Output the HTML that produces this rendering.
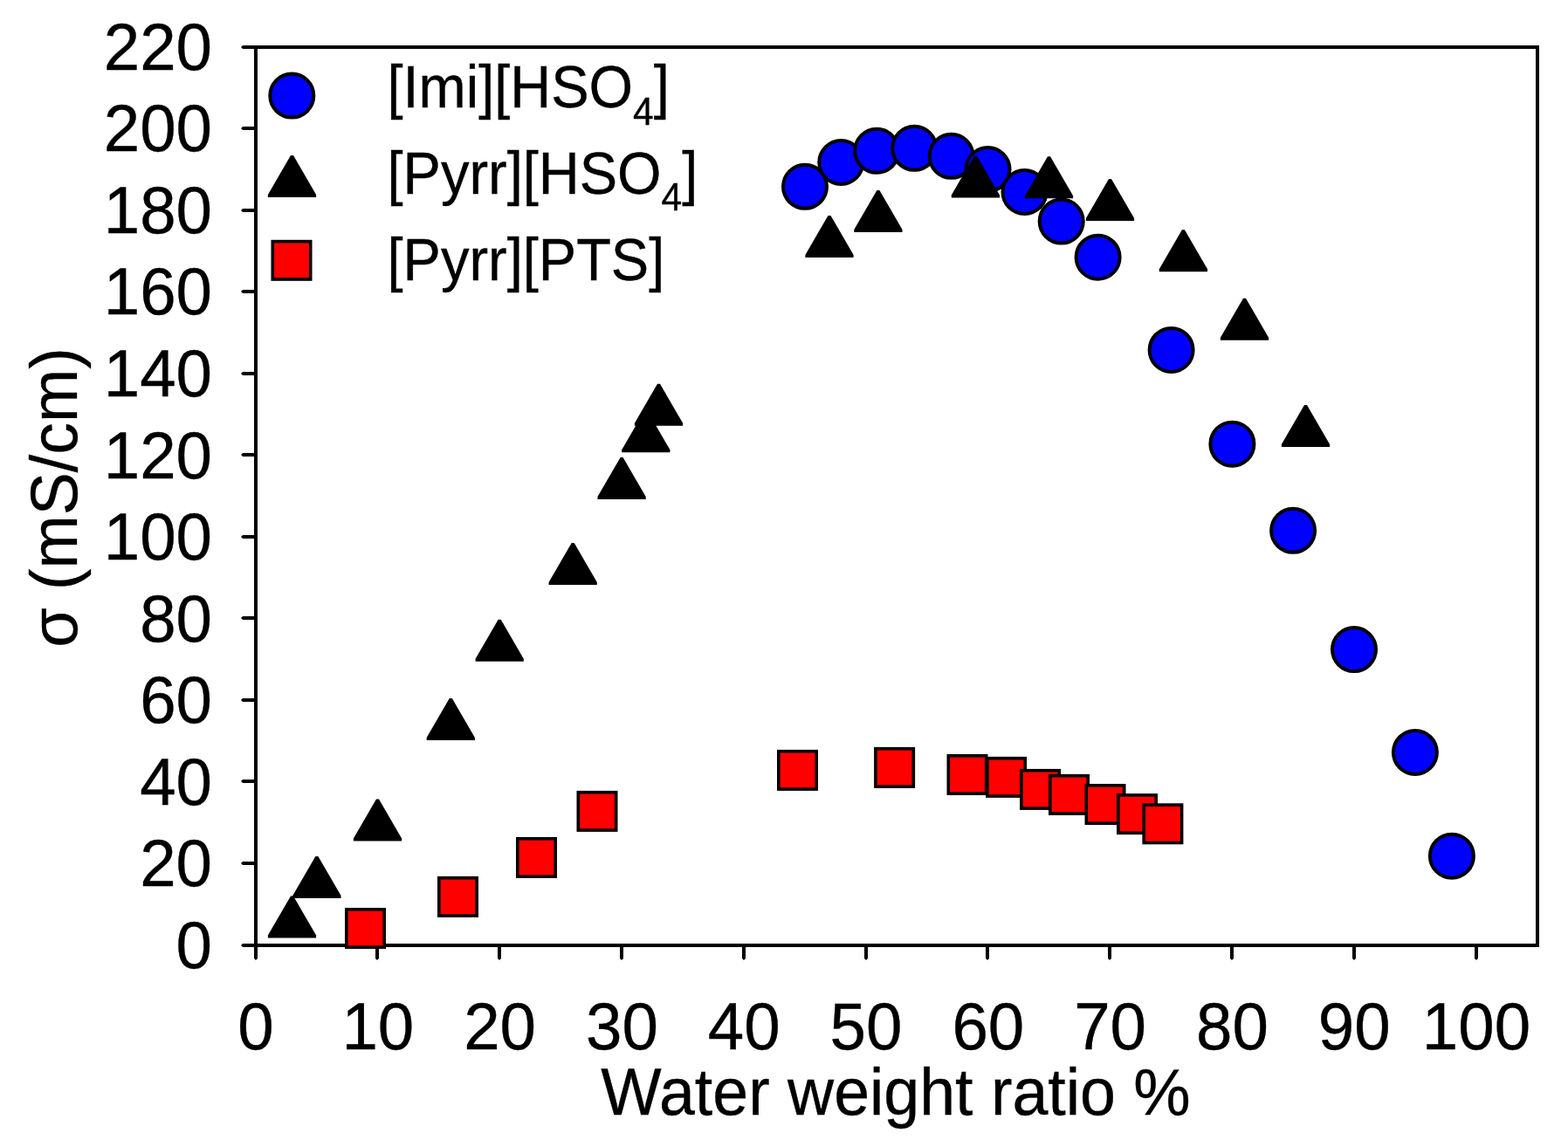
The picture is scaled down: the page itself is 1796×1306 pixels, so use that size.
<!DOCTYPE html>
<html><head><meta charset="utf-8"><title>Conductivity vs water weight ratio</title>
<style>
html,body{margin:0;padding:0;background:#fff;}
svg{display:block;}
text{font-family:'Liberation Sans', Arial, sans-serif;fill:#000;stroke:#000;stroke-width:0.35px;}
</style></head>
<body>
<svg width="1796" height="1306" viewBox="0 0 1796 1306">
<rect width="1796" height="1306" fill="#fff"/>
<rect x="293" y="54" width="1468" height="1029" fill="none" stroke="#000" stroke-width="4"/>
<polygon points="293,1081 278,1081 276,1083 278,1085 293,1085" fill="#000"/>
<text transform="translate(243.0,1108.8) scale(1,1.03)" font-size="74.5" text-anchor="end">0</text>
<polygon points="293,987 278,987 276,989 278,991 293,991" fill="#000"/>
<text transform="translate(243.0,1015.3) scale(1,1.03)" font-size="74.5" text-anchor="end">20</text>
<polygon points="293,893 278,893 276,895 278,897 293,897" fill="#000"/>
<text transform="translate(243.0,921.7) scale(1,1.03)" font-size="74.5" text-anchor="end">40</text>
<polygon points="293,800 278,800 276,802 278,804 293,804" fill="#000"/>
<text transform="translate(243.0,828.2) scale(1,1.03)" font-size="74.5" text-anchor="end">60</text>
<polygon points="293,706 278,706 276,708 278,710 293,710" fill="#000"/>
<text transform="translate(243.0,734.6) scale(1,1.03)" font-size="74.5" text-anchor="end">80</text>
<polygon points="293,613 278,613 276,615 278,617 293,617" fill="#000"/>
<text transform="translate(243.0,641.1) scale(1,1.03)" font-size="74.5" text-anchor="end">100</text>
<polygon points="293,519 278,519 276,521 278,523 293,523" fill="#000"/>
<text transform="translate(243.0,547.5) scale(1,1.03)" font-size="74.5" text-anchor="end">120</text>
<polygon points="293,426 278,426 276,428 278,430 293,430" fill="#000"/>
<text transform="translate(243.0,454.0) scale(1,1.03)" font-size="74.5" text-anchor="end">140</text>
<polygon points="293,332 278,332 276,334 278,336 293,336" fill="#000"/>
<text transform="translate(243.0,360.4) scale(1,1.03)" font-size="74.5" text-anchor="end">160</text>
<polygon points="293,239 278,239 276,241 278,243 293,243" fill="#000"/>
<text transform="translate(243.0,266.9) scale(1,1.03)" font-size="74.5" text-anchor="end">180</text>
<polygon points="293,145 278,145 276,147 278,149 293,149" fill="#000"/>
<text transform="translate(243.0,173.3) scale(1,1.03)" font-size="74.5" text-anchor="end">200</text>
<polygon points="293,52 278,52 276,54 278,56 293,56" fill="#000"/>
<text transform="translate(243.0,79.8) scale(1,1.03)" font-size="74.5" text-anchor="end">220</text>
<polygon points="291,1083 291,1098 293,1100 295,1098 295,1083" fill="#000"/>
<text transform="translate(293.0,1201.5) scale(1,1.03)" font-size="74.5" text-anchor="middle">0</text>
<polygon points="430,1083 430,1098 432,1100 434,1098 434,1083" fill="#000"/>
<text transform="translate(432.8,1201.5) scale(1,1.03)" font-size="74.5" text-anchor="middle">10</text>
<polygon points="570,1083 570,1098 572,1100 574,1098 574,1083" fill="#000"/>
<text transform="translate(572.6,1201.5) scale(1,1.03)" font-size="74.5" text-anchor="middle">20</text>
<polygon points="710,1083 710,1098 712,1100 714,1098 714,1083" fill="#000"/>
<text transform="translate(712.4,1201.5) scale(1,1.03)" font-size="74.5" text-anchor="middle">30</text>
<polygon points="850,1083 850,1098 852,1100 854,1098 854,1083" fill="#000"/>
<text transform="translate(852.2,1201.5) scale(1,1.03)" font-size="74.5" text-anchor="middle">40</text>
<polygon points="990,1083 990,1098 992,1100 994,1098 994,1083" fill="#000"/>
<text transform="translate(992.0,1201.5) scale(1,1.03)" font-size="74.5" text-anchor="middle">50</text>
<polygon points="1129,1083 1129,1098 1131,1100 1133,1098 1133,1083" fill="#000"/>
<text transform="translate(1131.8,1201.5) scale(1,1.03)" font-size="74.5" text-anchor="middle">60</text>
<polygon points="1269,1083 1269,1098 1271,1100 1273,1098 1273,1083" fill="#000"/>
<text transform="translate(1271.6,1201.5) scale(1,1.03)" font-size="74.5" text-anchor="middle">70</text>
<polygon points="1409,1083 1409,1098 1411,1100 1413,1098 1413,1083" fill="#000"/>
<text transform="translate(1411.4,1201.5) scale(1,1.03)" font-size="74.5" text-anchor="middle">80</text>
<polygon points="1549,1083 1549,1098 1551,1100 1553,1098 1553,1083" fill="#000"/>
<text transform="translate(1551.2,1201.5) scale(1,1.03)" font-size="74.5" text-anchor="middle">90</text>
<polygon points="1689,1083 1689,1098 1691,1100 1693,1098 1693,1083" fill="#000"/>
<text transform="translate(1691.0,1201.5) scale(1,1.03)" font-size="74.5" text-anchor="middle">100</text>
<text transform="translate(1026.0,1277.0) scale(1,1.03)" font-size="73.5" text-anchor="middle">Water weight ratio %</text>
<text transform="translate(87.5,570) rotate(-90) scale(1,1.03)" font-size="73.5" text-anchor="middle">σ (mS/cm)</text>
<circle cx="922.0" cy="213.8" r="25" fill="#0000ff" stroke="#000" stroke-width="4"/>
<circle cx="963.3" cy="186.0" r="25" fill="#0000ff" stroke="#000" stroke-width="4"/>
<circle cx="1004.2" cy="172.8" r="25" fill="#0000ff" stroke="#000" stroke-width="4"/>
<circle cx="1047.3" cy="169.8" r="25" fill="#0000ff" stroke="#000" stroke-width="4"/>
<circle cx="1089.6" cy="178.8" r="25" fill="#0000ff" stroke="#000" stroke-width="4"/>
<circle cx="1131.5" cy="194.1" r="25" fill="#0000ff" stroke="#000" stroke-width="4"/>
<circle cx="1173.5" cy="220.0" r="25" fill="#0000ff" stroke="#000" stroke-width="4"/>
<circle cx="1215.7" cy="253.6" r="25" fill="#0000ff" stroke="#000" stroke-width="4"/>
<circle cx="1257.6" cy="294.7" r="25" fill="#0000ff" stroke="#000" stroke-width="4"/>
<circle cx="1341.6" cy="400.9" r="25" fill="#0000ff" stroke="#000" stroke-width="4"/>
<circle cx="1411.4" cy="508.7" r="25" fill="#0000ff" stroke="#000" stroke-width="4"/>
<circle cx="1481.1" cy="607.8" r="25" fill="#0000ff" stroke="#000" stroke-width="4"/>
<circle cx="1551.0" cy="744.1" r="25" fill="#0000ff" stroke="#000" stroke-width="4"/>
<circle cx="1620.9" cy="861.9" r="25" fill="#0000ff" stroke="#000" stroke-width="4"/>
<circle cx="1662.9" cy="980.7" r="25" fill="#0000ff" stroke="#000" stroke-width="4"/>
<polygon points="333.0,1026.4 336.0,1026.4 362.1,1071.4 362.1,1074.4 306.9,1074.4 306.9,1071.4" fill="#000"/>
<polygon points="361.4,981.0 364.4,981.0 390.5,1026.0 390.5,1029.0 335.3,1029.0 335.3,1026.0" fill="#000"/>
<polygon points="431.0,915.6 434.0,915.6 460.1,960.6 460.1,963.6 404.9,963.6 404.9,960.6" fill="#000"/>
<polygon points="514.8,800.0 517.8,800.0 543.9,845.0 543.9,848.0 488.7,848.0 488.7,845.0" fill="#000"/>
<polygon points="570.7,709.8 573.7,709.8 599.8,754.8 599.8,757.8 544.6,757.8 544.6,754.8" fill="#000"/>
<polygon points="654.7,621.9 657.7,621.9 683.8,666.9 683.8,669.9 628.6,669.9 628.6,666.9" fill="#000"/>
<polygon points="710.6,524.1 713.6,524.1 739.7,569.1 739.7,572.1 684.5,572.1 684.5,569.1" fill="#000"/>
<polygon points="738.3,470.3 741.3,470.3 767.4,515.3 767.4,518.3 712.2,518.3 712.2,515.3" fill="#000"/>
<polygon points="753.0,439.8 756.0,439.8 782.1,484.8 782.1,487.8 726.9,487.8 726.9,484.8" fill="#000"/>
<polygon points="948.5,246.9 951.5,246.9 977.6,291.9 977.6,294.9 922.4,294.9 922.4,291.9" fill="#000"/>
<polygon points="1004.4,218.0 1007.4,218.0 1033.5,263.0 1033.5,266.0 978.3,266.0 978.3,263.0" fill="#000"/>
<polygon points="1115.9,178.4 1118.9,178.4 1145.0,223.4 1145.0,226.4 1089.8,226.4 1089.8,223.4" fill="#000"/>
<polygon points="1200.0,179.2 1203.0,179.2 1229.1,224.2 1229.1,227.2 1173.9,227.2 1173.9,224.2" fill="#000"/>
<polygon points="1270.0,205.1 1273.0,205.1 1299.1,250.1 1299.1,253.1 1243.9,253.1 1243.9,250.1" fill="#000"/>
<polygon points="1353.9,263.2 1356.9,263.2 1383.0,308.2 1383.0,311.2 1327.8,311.2 1327.8,308.2" fill="#000"/>
<polygon points="1424.0,341.8 1427.0,341.8 1453.1,386.8 1453.1,389.8 1397.9,389.8 1397.9,386.8" fill="#000"/>
<polygon points="1494.0,464.0 1497.0,464.0 1523.1,509.0 1523.1,512.0 1467.9,512.0 1467.9,509.0" fill="#000"/>
<rect x="396.8" y="1041.8" width="43.4" height="43.4" fill="#ff0000" stroke="#000" stroke-width="3.6"/>
<rect x="502.8" y="1005.7" width="43.4" height="43.4" fill="#ff0000" stroke="#000" stroke-width="3.6"/>
<rect x="592.8" y="960.8" width="43.4" height="43.4" fill="#ff0000" stroke="#000" stroke-width="3.6"/>
<rect x="662.3" y="907.7" width="43.4" height="43.4" fill="#ff0000" stroke="#000" stroke-width="3.6"/>
<rect x="891.8" y="860.7" width="43.4" height="43.4" fill="#ff0000" stroke="#000" stroke-width="3.6"/>
<rect x="1002.9" y="857.7" width="43.4" height="43.4" fill="#ff0000" stroke="#000" stroke-width="3.6"/>
<rect x="1086.3" y="865.8" width="43.4" height="43.4" fill="#ff0000" stroke="#000" stroke-width="3.6"/>
<rect x="1130.9" y="868.7" width="43.4" height="43.4" fill="#ff0000" stroke="#000" stroke-width="3.6"/>
<rect x="1169.9" y="882.7" width="43.4" height="43.4" fill="#ff0000" stroke="#000" stroke-width="3.6"/>
<rect x="1202.8" y="888.7" width="43.4" height="43.4" fill="#ff0000" stroke="#000" stroke-width="3.6"/>
<rect x="1244.3" y="899.8" width="43.4" height="43.4" fill="#ff0000" stroke="#000" stroke-width="3.6"/>
<rect x="1280.8" y="910.9" width="43.4" height="43.4" fill="#ff0000" stroke="#000" stroke-width="3.6"/>
<rect x="1310.2" y="922.1" width="43.4" height="43.4" fill="#ff0000" stroke="#000" stroke-width="3.6"/>
<circle cx="334.3" cy="109.6" r="25" fill="#0000ff" stroke="#000" stroke-width="4"/>
<polygon points="333.0,177.9 336.0,177.9 362.1,222.9 362.1,225.9 306.9,225.9 306.9,222.9" fill="#000"/>
<rect x="312.3" y="276.6" width="43.4" height="43.4" fill="#ff0000" stroke="#000" stroke-width="3.6"/>
<text transform="translate(443.5,123.0) scale(1,1.04)" font-size="65" text-anchor="start">[Imi][HSO<tspan font-size="42.5" dy="19">4</tspan><tspan dy="-19">]</tspan></text>
<text transform="translate(443.5,221.5) scale(1,1.04)" font-size="65" text-anchor="start">[Pyrr][HSO<tspan font-size="42.5" dy="19">4</tspan><tspan dy="-19">]</tspan></text>
<text transform="translate(443.5,320.7) scale(1,1.04)" font-size="65" text-anchor="start">[Pyrr][PTS]</text>
</svg>
</body></html>
